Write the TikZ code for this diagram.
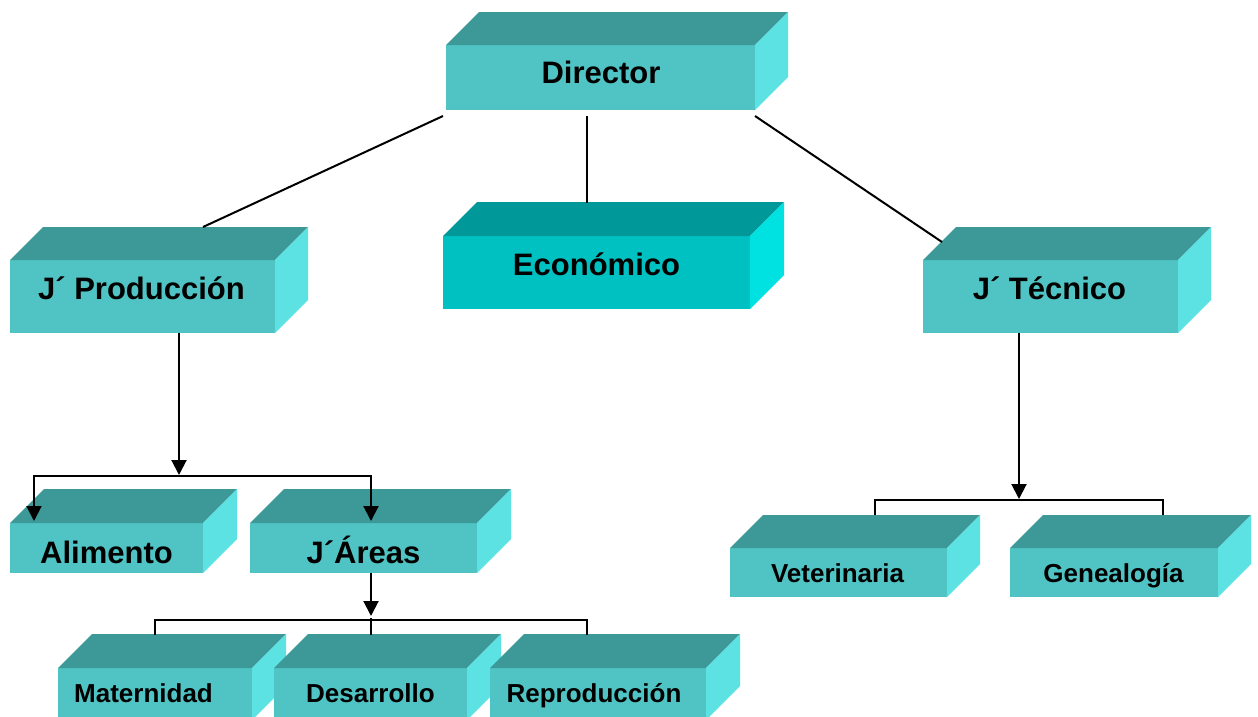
\documentclass[tikz,border=0pt]{standalone}
\usepackage{fontspec}
\setmainfont{Liberation Sans}
\usetikzlibrary{arrows.meta,calc}
\definecolor{cfront}{HTML}{50C4C4}
\definecolor{ctop}{HTML}{3D9898}
\definecolor{cside}{HTML}{5CE2E2}
\definecolor{efront}{HTML}{00C1C1}
\definecolor{etop}{HTML}{009898}
\definecolor{eside}{HTML}{00E2E2}
\newcommand{\cubebox}[7]{% name, x1, y1, x2, y2, depth, palette
  \node[fill=#7front, draw=none, inner sep=0pt, outer sep=0pt, anchor=north west,
        minimum width={(#4-#2)*1pt}, minimum height={(#5-#3)*1pt}] (#1) at (#2,#3) {};
  \fill[#7top] (#1.north west) -- ++(#6,-#6) -- ([shift={(#6,-#6)}]#1.north east) -- (#1.north east) -- cycle;
  \fill[#7side] (#1.north east) -- ++(#6,-#6) -- ([shift={(#6,-#6)}]#1.south east) -- (#1.south east) -- cycle;
}
\tikzset{
  big/.style={font=\bfseries\fontsize{31}{36}\selectfont, inner sep=0pt, anchor=base},
  small/.style={font=\bfseries\fontsize{26}{30}\selectfont, inner sep=0pt, anchor=base},
  conn/.style={line width=2pt, black},
  arr/.style={conn, -{Triangle[length=15pt,width=15pt]}},
}
\begin{document}
\begin{tikzpicture}[x=1pt,y=-1pt]
\useasboundingbox (0,0) rectangle (1258,716);
% boxes
\cubebox{dir}{446}{45}{755}{110}{33}{c}
\cubebox{eco}{443}{236}{750}{309}{34}{e}
\cubebox{prod}{10}{260}{275}{333}{33}{c}
\cubebox{tec}{923}{260}{1178}{333}{33}{c}
\cubebox{ali}{10}{523}{203}{573}{34}{c}
\cubebox{are}{250}{523}{477}{573}{34}{c}
\cubebox{mat}{58}{668}{252}{720}{34}{c}
\cubebox{des}{274}{668}{467}{720}{34}{c}
\cubebox{rep}{490}{668}{706}{720}{34}{c}
\cubebox{vet}{730}{548}{947}{597}{33}{c}
\cubebox{gen}{1010}{548}{1218}{597}{33}{c}
% texts
\node[big] (dirt) at (601,83) {Director};
\node[big] (ecot) at (596.5,275) {Económico};
\node[big] (prodt) at (141.5,299) {J´ Producción};
\node[big] (tect) at (1049.5,299) {J´ Técnico};
\node[big] (alit) at (106.5,563) {Alimento};
\node[big] (aret) at (363.5,563) {J´Áreas};
\node[small] (matt) at (143.5,702) {Maternidad};
\node[small] (dest) at (370.5,702) {Desarrollo};
\node[small] (rept) at (594,702) {Reproducción};
\node[small] (vett) at (837.5,582) {Veterinaria};
\node[small] (gent) at (1113.5,582) {Genealogía};
% connectors from Director
\draw[conn] ($(dir.south west)+(-3,6)$) -- ($(prod.north west)+(193,-33)$);
\draw[conn] ($(dir.south west)+(141,6)$) -- ($(eco.north west)+(144,-33)$);
\draw[conn] ($(dir.south east)+(0,6)$) -- ($(tec.north west)+(19,-18)$);
% Produccion branch
\coordinate (pj) at ($(prod.south west)+(169,142)$);
\draw[arr] ($(prod.south west)+(169,0)$) -- (pj);
\draw[conn] ($(ali.north west)+(24,-47)$) -- ($(are.north west)+(121,-47)$);
\draw[arr] ($(ali.north west)+(24,-48)$) -- ($(ali.north west)+(24,-2)$);
\draw[arr] ($(are.north west)+(121,-48)$) -- ($(are.north west)+(121,-2)$);
% Areas branch
\draw[arr] ($(are.south west)+(121,0)$) -- ($(are.south west)+(121,43)$);
\draw[conn] ($(mat.north west)+(97,-33)$) |- ($(rep.north west)+(97,-48)$) -- ($(rep.north west)+(97,-33)$);
\draw[conn] ($(are.south west)+(121,45)$) -- ($(are.south west)+(121,62)$);
% Tecnico branch
\draw[arr] ($(tec.south west)+(96,0)$) -- ($(tec.south west)+(96,166)$);
\draw[conn] ($(vet.north west)+(145,-33)$) |- ($(gen.north west)+(153,-48)$) -- ($(gen.north west)+(153,-33)$);
\end{tikzpicture}
\end{document}
